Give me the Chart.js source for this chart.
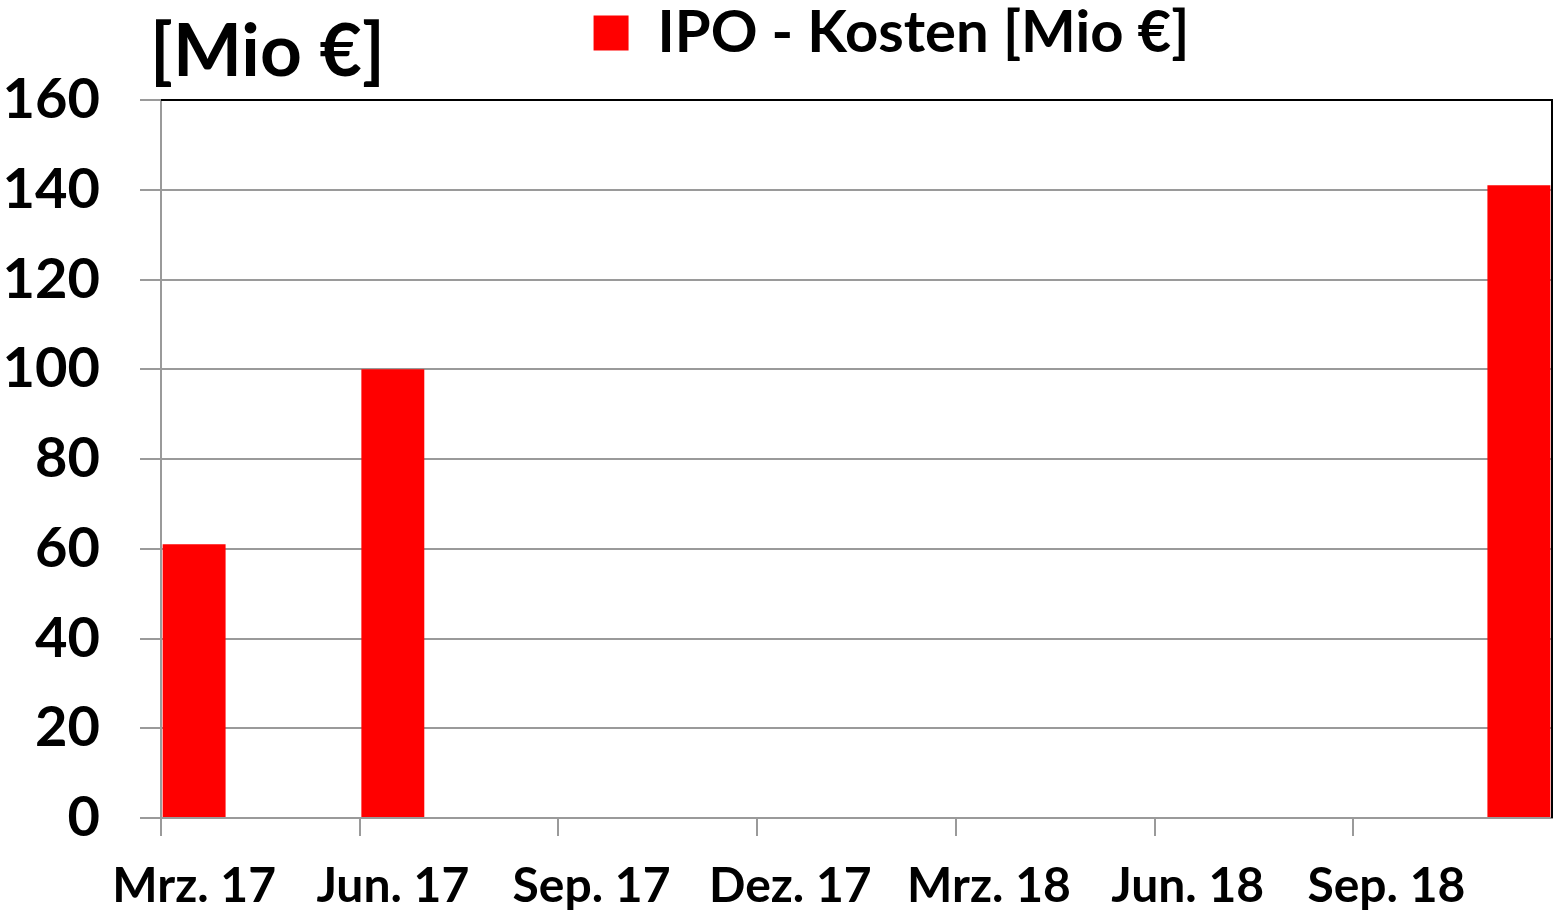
<!DOCTYPE html>
<html>
<head>
<meta charset="utf-8">
<script src="https://cdn.jsdelivr.net/npm/chart.js@4"></script>
<style>
  html, body { margin: 0; padding: 0; background: #fff; }
  #wrap { width: 1556px; height: 915px; }
</style>
</head>
<body>
<div id="wrap"><canvas id="ipo-chart"></canvas></div>
<script>
// Monthly categories, Mrz. 17 to Nov. 18
const months = ['Mrz. 17', 'Apr. 17', 'Mai. 17', 'Jun. 17', 'Jul. 17', 'Aug. 17', 'Sep. 17',
    'Okt. 17', 'Nov. 17', 'Dez. 17', 'Jan. 18', 'Feb. 18', 'Mrz. 18', 'Apr. 18', 'Mai. 18',
    'Jun. 18', 'Jul. 18', 'Aug. 18', 'Sep. 18', 'Okt. 18', 'Nov. 18'];
// IPO costs in Mio EUR (only three months have a value)
const ipoCosts = [61, null, null, 100, null, null, null, null, null, null, null, null, null,
    null, null, null, null, null, null, null, 141];
const seriesLabel = 'IPO - Kosten [Mio €]';
const yTicks = [0, 20, 40, 60, 80, 100, 120, 140, 160];

const fontFamily = 'Lato, "Open Sans", sans-serif';
const gridGray = '#9a9a9a';

// Draws the unit text top left and the dark frame on top and right
const extras = {
    id: 'extras',
    afterLayout(chart) {
        // move the legend a bit to the right and up, like the original
        chart.legend.left += 35;
        chart.legend.right += 35;
        chart.legend.top -= 28;
        chart.legend.bottom -= 28;
    },
    afterDraw(chart) {
        const ctx = chart.ctx;
        const area = chart.chartArea;
        ctx.save();
        ctx.fillStyle = '#000';
        ctx.font = 'bold 73px ' + fontFamily;
        ctx.textBaseline = 'alphabetic';
        ctx.fillText('[Mio €]', 150, 76);
        ctx.strokeStyle = '#000';
        ctx.lineWidth = 2;
        ctx.beginPath();
        ctx.moveTo(area.left, area.top);
        ctx.lineTo(area.right, area.top);
        ctx.lineTo(area.right, area.bottom);
        ctx.stroke();
        ctx.restore();
    }
};

const ipoChart = new Chart(document.getElementById('ipo-chart'), {
    type: 'bar',
    data: {
        labels: months,
        datasets: [{
            label: seriesLabel,
            data: ipoCosts,
            backgroundColor: '#ff0000',
            borderWidth: 0,
            barPercentage: 0.95,
            categoryPercentage: 1.0
        }]
    },
    options: {
        responsive: true,
        maintainAspectRatio: false,
        animation: false,
        layout: { padding: { left: 0, right: 4, top: 22, bottom: 0 } },
        plugins: {
            legend: {
                position: 'top',
                fullSize: false,
                labels: {
                    boxWidth: 35,
                    boxHeight: 35,
                    padding: 10,
                    color: '#000',
                    font: { family: fontFamily, size: 58, weight: 'bold' }
                }
            },
            tooltip: { enabled: false }
        },
        scales: {
            x: {
                offset: true,
                afterFit: axis => {
                    axis.paddingLeft = 0;
                    axis.paddingRight = 0;
                    axis.height = 97;
                },
                grid: {
                    offset: true,
                    drawOnChartArea: true,
                    color: ctx => ctx.index === months.length ? '#000' : 'rgba(0,0,0,0)',
                    tickColor: ctx => ctx.index % 3 === 0 ? gridGray : 'rgba(0,0,0,0)',
                    tickLength: 18,
                    lineWidth: 2
                },
                border: { color: gridGray, width: 2 },
                ticks: {
                    autoSkip: false,
                    maxRotation: 0,
                    padding: 22,
                    color: '#000',
                    font: { family: fontFamily, size: 48, weight: 'bold' },
                    callback: (value, index) => index % 3 === 0 ? months[index] : ''
                }
            },
            y: {
                min: 0,
                max: 160,
                afterBuildTicks: axis => { axis.ticks = yTicks.map(v => ({ value: v })); },
                afterFit: axis => { axis.width = 161; },
                grid: {
                    color: gridGray,
                    lineWidth: 2,
                    tickLength: 21
                },
                border: { color: gridGray, width: 2 },
                ticks: {
                    padding: 40,
                    color: '#000',
                    font: { family: fontFamily, size: 56, weight: 'bold' }
                }
            }
        }
    },
    plugins: [extras]
});
</script>
</body>
</html>
